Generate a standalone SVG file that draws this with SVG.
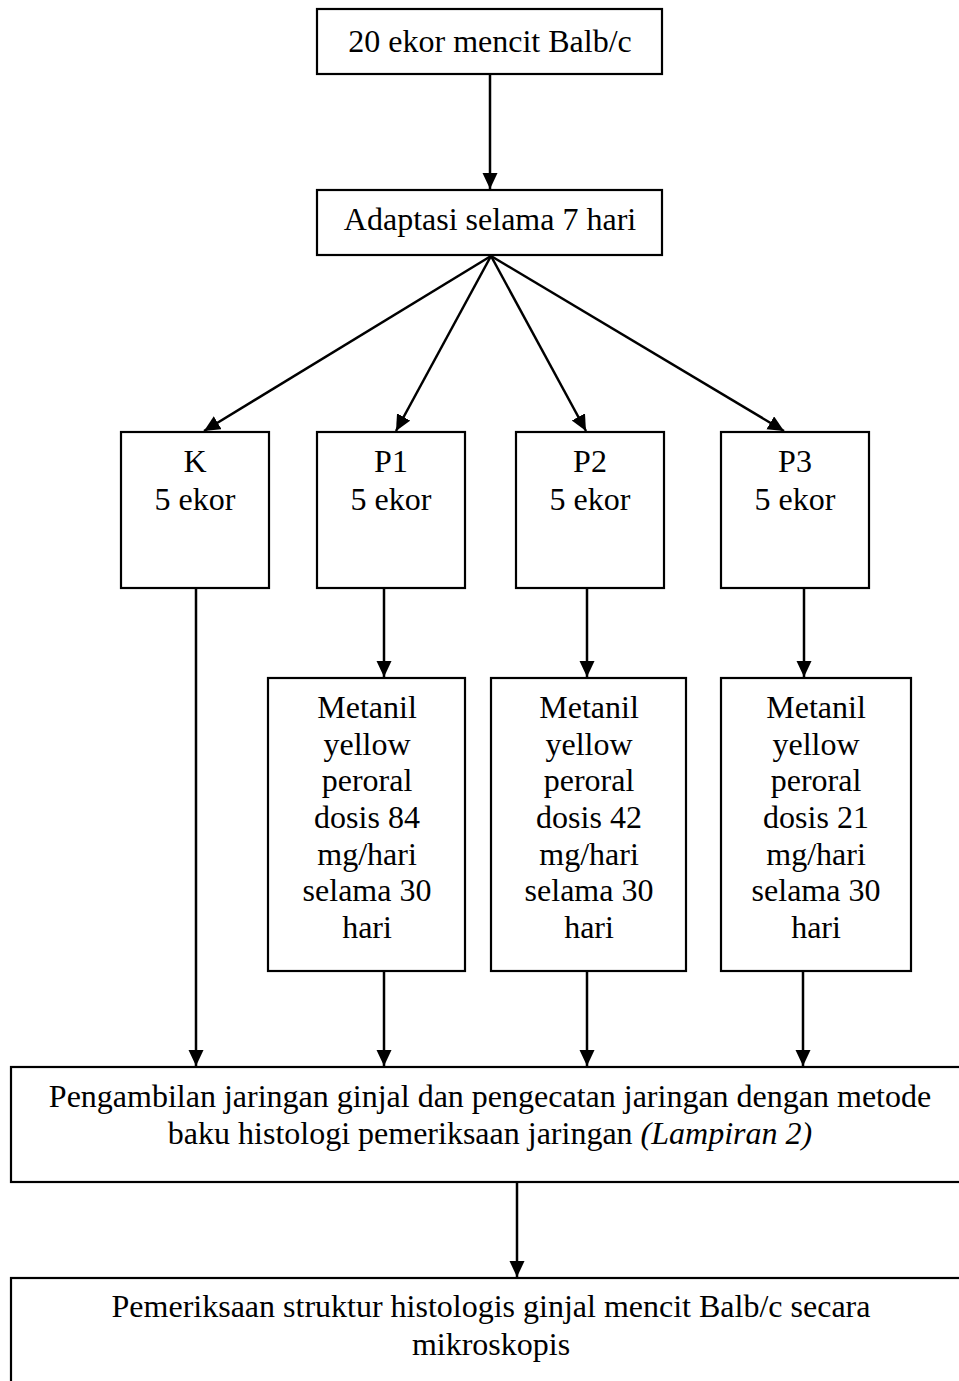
<svg xmlns="http://www.w3.org/2000/svg" width="959" height="1381" viewBox="0 0 959 1381">
<style>
.box{fill:#fff;stroke:#000;stroke-width:2.2}
.t{font-family:"Liberation Serif","Times New Roman",serif;font-size:32px;fill:#000;text-anchor:middle}
.c{stroke:#000;stroke-width:2.5;fill:none}
</style>
<defs>
<marker id="ah" markerUnits="userSpaceOnUse" markerWidth="17" markerHeight="16" refX="16" refY="7.5" orient="auto">
<path d="M0,0 L16,7.5 L0,15 Z" fill="#000"/>
</marker>
</defs>
<rect width="959" height="1381" fill="#fff"/>
<g id="connectors">
<line class="c" x1="490" y1="74" x2="490" y2="189" marker-end="url(#ah)"/>
<line class="c" x1="491" y1="256" x2="204" y2="431" marker-end="url(#ah)"/>
<line class="c" x1="491" y1="256" x2="396" y2="431" marker-end="url(#ah)"/>
<line class="c" x1="491" y1="256" x2="586" y2="431" marker-end="url(#ah)"/>
<line class="c" x1="491" y1="256" x2="784" y2="431" marker-end="url(#ah)"/>
<line class="c" x1="196" y1="588" x2="196" y2="1066" marker-end="url(#ah)"/>
<line class="c" x1="384" y1="588" x2="384" y2="677" marker-end="url(#ah)"/>
<line class="c" x1="587" y1="588" x2="587" y2="677" marker-end="url(#ah)"/>
<line class="c" x1="804" y1="588" x2="804" y2="677" marker-end="url(#ah)"/>
<line class="c" x1="384" y1="971" x2="384" y2="1066" marker-end="url(#ah)"/>
<line class="c" x1="587" y1="971" x2="587" y2="1066" marker-end="url(#ah)"/>
<line class="c" x1="803" y1="971" x2="803" y2="1066" marker-end="url(#ah)"/>
<line class="c" x1="517" y1="1182" x2="517" y2="1277" marker-end="url(#ah)"/>
</g>
<g id="n-start"><rect class="box" x="317" y="9" width="345" height="65"/><text class="t" x="490" y="52">20 ekor mencit Balb/c</text></g>
<g id="n-adapt"><rect class="box" x="317" y="190" width="345" height="65"/><text class="t" x="490" y="230">Adaptasi selama 7 hari</text></g>
<g id="n-k"><rect class="box" x="121" y="432" width="148" height="156"/><text class="t" x="195" y="472">K</text><text class="t" x="195" y="510">5 ekor</text></g>
<g id="n-p1"><rect class="box" x="317" y="432" width="148" height="156"/><text class="t" x="391" y="472">P1</text><text class="t" x="391" y="510">5 ekor</text></g>
<g id="n-p2"><rect class="box" x="516" y="432" width="148" height="156"/><text class="t" x="590" y="472">P2</text><text class="t" x="590" y="510">5 ekor</text></g>
<g id="n-p3"><rect class="box" x="721" y="432" width="148" height="156"/><text class="t" x="795" y="472">P3</text><text class="t" x="795" y="510">5 ekor</text></g>
<g id="n-t1"><rect class="box" x="268" y="678" width="197" height="293"/>
<text class="t" x="367" y="718">Metanil</text><text class="t" x="367" y="755">yellow</text><text class="t" x="367" y="791">peroral</text><text class="t" x="367" y="828">dosis 84</text><text class="t" x="367" y="865">mg/hari</text><text class="t" x="367" y="901">selama 30</text><text class="t" x="367" y="938">hari</text></g>
<g id="n-t2"><rect class="box" x="491" y="678" width="195" height="293"/>
<text class="t" x="589" y="718">Metanil</text><text class="t" x="589" y="755">yellow</text><text class="t" x="589" y="791">peroral</text><text class="t" x="589" y="828">dosis 42</text><text class="t" x="589" y="865">mg/hari</text><text class="t" x="589" y="901">selama 30</text><text class="t" x="589" y="938">hari</text></g>
<g id="n-t3"><rect class="box" x="721" y="678" width="190" height="293"/>
<text class="t" x="816" y="718">Metanil</text><text class="t" x="816" y="755">yellow</text><text class="t" x="816" y="791">peroral</text><text class="t" x="816" y="828">dosis 21</text><text class="t" x="816" y="865">mg/hari</text><text class="t" x="816" y="901">selama 30</text><text class="t" x="816" y="938">hari</text></g>
<g id="n-ambil"><rect class="box" x="11" y="1067" width="970" height="115"/>
<text class="t" x="490" y="1107">Pengambilan jaringan ginjal dan pengecatan jaringan dengan metode</text>
<text class="t" x="490" y="1144">baku histologi pemeriksaan jaringan <tspan font-style="italic">(Lampiran 2)</tspan></text></g>
<g id="n-periksa"><rect class="box" x="11" y="1278" width="970" height="130"/>
<text class="t" x="491" y="1317">Pemeriksaan struktur histologis ginjal mencit Balb/c secara</text>
<text class="t" x="491" y="1355">mikroskopis</text></g>
</svg>
